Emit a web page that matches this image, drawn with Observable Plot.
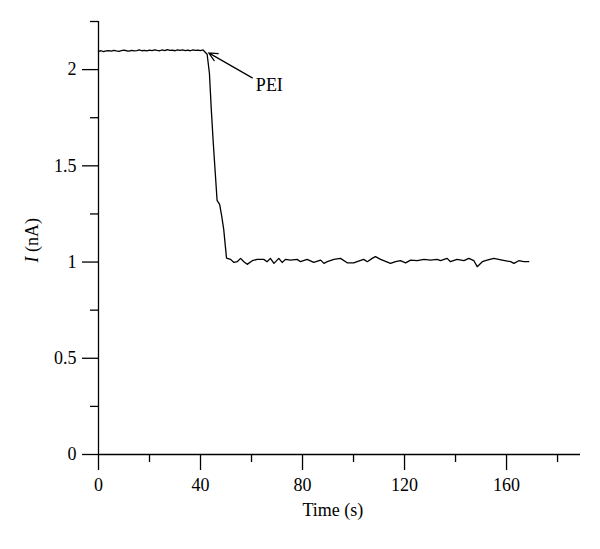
<!DOCTYPE html>
<html><head><meta charset="utf-8">
<script src="https://cdn.jsdelivr.net/npm/d3@7"></script>
<script src="https://cdn.jsdelivr.net/npm/@observablehq/plot@0.6"></script>
<style>body{margin:0;background:#fff}</style>
</head><body><div id="chart"></div>
<script>
// Time (s)
const time = [
  0,1,2,3,4,5,6,7,8,9,10,11,12,13,14,15,16,17,18,19,20,21,22,23,24,25,26,27,28,29,30,31,32,33,34,35,36,37,38,39,40,41,
  42.6,43.5,44.2,45.0,45.8,46.5,47.5,48.3,49.1,50.2,
  50.5,51.8,53.1,54.4,55.7,57.0,58.3,60.3,62.2,64.8,66.1,67.4,68.8,70.7,72.0,73.3,75.3,77.9,79.2,81.8,84.4,87.1,88.4,89.7,
  92.3,94.9,97.5,100.1,101.4,104.0,105.4,107.3,108.6,110.6,114.5,116.5,118.4,120.4,122.4,125.0,127.6,130.2,132.8,134.1,
  136.7,138.0,140.6,143.3,145.2,147.2,148.5,150.5,152.4,155.0,158.3,161.6,162.9,164.8,166.8,168.7
];
// Current I (nA)
const current = [
  2.095,2.098,2.094,2.097,2.099,2.096,2.100,2.097,2.095,2.099,2.101,2.098,2.096,2.100,2.097,2.099,2.102,2.098,2.100,2.097,2.101,
  2.099,2.103,2.100,2.098,2.102,2.099,2.104,2.100,2.101,2.098,2.103,2.100,2.102,2.099,2.101,2.098,2.102,2.100,2.101,2.099,2.102,
  2.080,1.980,1.800,1.620,1.460,1.320,1.300,1.240,1.170,1.020,
  1.019,1.014,0.998,1.002,1.019,1.002,0.988,1.007,1.014,1.014,1.002,1.019,0.993,1.019,0.998,1.014,1.010,1.014,1.002,1.014,0.998,1.010,0.993,1.002,
  1.014,1.019,0.996,0.996,1.002,1.014,1.002,1.019,1.028,1.014,0.993,1.002,1.007,0.996,1.010,1.007,1.014,1.010,1.014,1.007,
  1.019,1.002,1.014,1.007,1.019,1.007,0.976,1.002,1.010,1.019,1.010,1.002,0.993,1.007,1.002,1.002
];
const xMajor = [0, 40, 80, 120, 160];
const xMinor = [20, 60, 100, 140, 180];
const yMajor = [0, 0.5, 1, 1.5, 2];
const yMinor = [0.25, 0.75, 1.25, 1.75, 2.25];
const annotation = [{label: "PEI", tx: 67, ty: 1.917, x1: 60.3, y1: 1.957, x2: 43.2, y2: 2.087}];

const data = time.map((t, k) => ({t, i: current[k]}));
const font = "'Liberation Serif', 'Times New Roman', serif";

const plot = Plot.plot({
  width: 600, height: 549,
  marginLeft: 98, marginRight: 20, marginTop: 21, marginBottom: 95,
  style: {fontFamily: font, fontSize: "18px", color: "#000", background: "#fff"},
  x: {domain: [0, 189]},
  y: {domain: [0, 2.25]},
  marks: [
    Plot.axisX({ticks: xMajor, tickSize: 16, tickPadding: 8, label: null, fontSize: 18, strokeWidth: 1.3, tickFormat: d => String(d)}),
    Plot.axisX({ticks: xMinor, tickSize: 8, label: null, strokeWidth: 1.3, tickFormat: () => ""}),
    Plot.axisY({ticks: yMajor, tickSize: 16, tickPadding: 6, label: null, fontSize: 18, strokeWidth: 1.3, tickFormat: d => String(d)}),
    Plot.axisY({ticks: yMinor, tickSize: 8, label: null, strokeWidth: 1.3, tickFormat: () => ""}),
    Plot.ruleX([0], {strokeWidth: 1.3}),
    Plot.ruleY([0], {strokeWidth: 1.3}),
    Plot.line(data, {x: "t", y: "i", stroke: "#000", strokeWidth: 1.3}),
    Plot.arrow(annotation, {x1: "x1", y1: "y1", x2: "x2", y2: "y2", stroke: "#000", strokeWidth: 1.2, headLength: 12, headAngle: 50}),
    Plot.text(annotation, {x: "tx", y: "ty", text: "label", fontSize: 18, fill: "#000"}),
    Plot.text(["Time (s)"], {frameAnchor: "bottom-left", dx: 204, dy: 61, fontSize: 18, fill: "#000"}),
    Plot.text(["I (nA)"], {frameAnchor: "left", dx: -66, dy: 24.5, rotate: -90, fontSize: 18, fill: "#000"})
  ]
});

d3.select(plot).selectAll("text").filter(function() { return this.textContent === "I (nA)"; })
  .each(function() {
    const t = d3.select(this);
    t.text(null);
    t.append("tspan").attr("font-style", "italic").text("I");
    t.append("tspan").text(" (nA)");
  });

document.getElementById("chart").appendChild(plot);
</script>
</body></html>
